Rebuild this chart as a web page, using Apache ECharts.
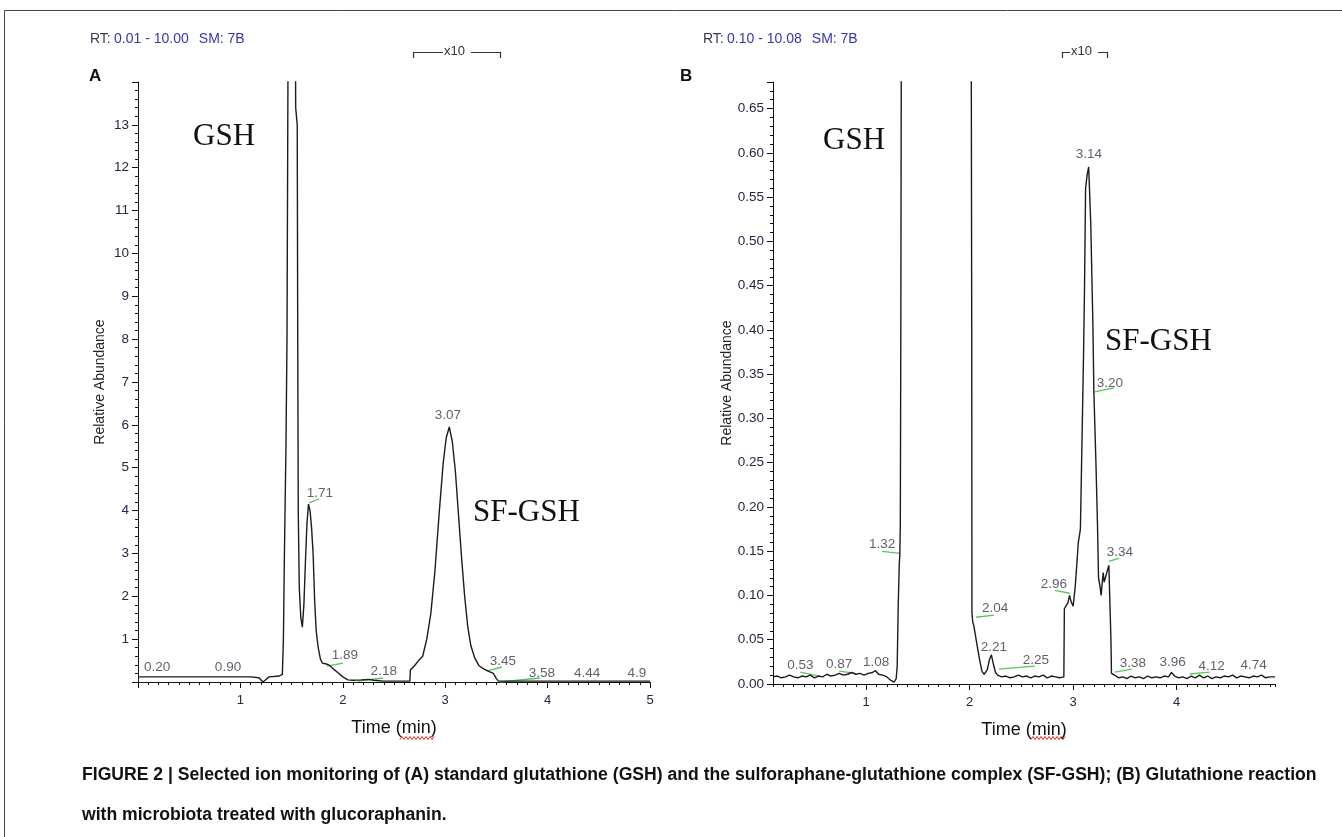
<!DOCTYPE html>
<html>
<head>
<meta charset="utf-8">
<title>Selected ion monitoring</title>
<script src="https://cdn.jsdelivr.net/npm/echarts@6/dist/echarts.min.js"></script>
<style>
html, body { margin: 0; padding: 0; background: #fff; }
#myChart { width: 1342px; height: 837px; }
</style>
</head>
<body>
<div id="myChart"></div>
<script>
// panel A: standard GSH / SF-GSH, [time (min), relative abundance]
var traceA = [
  [0.01, 0.12], [0.3, 0.12], [0.6, 0.12], [0.9, 0.12], [1.1, 0.12], [1.18, 0.1], [1.22, 0.0],
  [1.25, 0.06], [1.28, 0.12], [1.38, 0.14], [1.41, 0.18], [1.42, 1.0], [1.43, 3.0], [1.445, 5.5],
  [1.455, 8], [1.465, 14.5], [1.50, 80], [1.535, 16], [1.54, 13.4], [1.555, 13], [1.56, 8],
  [1.565, 4], [1.575, 2.2], [1.59, 1.5], [1.605, 1.28], [1.62, 1.8], [1.635, 2.8], [1.65, 3.7],
  [1.665, 4.15], [1.68, 4.0], [1.695, 3.6], [1.71, 3.0], [1.725, 1.9], [1.74, 1.2], [1.76, 0.8],
  [1.78, 0.55], [1.80, 0.44], [1.84, 0.42], [1.875, 0.38], [1.91, 0.3], [1.95, 0.22], [2.0, 0.12],
  [2.05, 0.05], [2.1, 0.04], [2.18, 0.05], [2.25, 0.06], [2.3, 0.04], [2.4, 0.02], [2.55, 0.02],
  [2.655, 0.02], [2.66, 0.28], [2.7, 0.38], [2.74, 0.5], [2.78, 0.6], [2.82, 1.0], [2.86, 1.6],
  [2.9, 2.6], [2.94, 3.9], [2.98, 5.1], [3.01, 5.7], [3.04, 5.95], [3.07, 5.6], [3.1, 4.9],
  [3.13, 3.9], [3.16, 2.9], [3.19, 2.0], [3.22, 1.3], [3.25, 0.85], [3.29, 0.55], [3.33, 0.38],
  [3.38, 0.3], [3.43, 0.24], [3.47, 0.2], [3.5, 0.08], [3.52, 0.02], [3.8, 0.02], [4.2, 0.02],
  [4.6, 0.02], [5.0, 0.02]
];

// panel B: microbiota + glucoraphanin
var traceB = [
  [0.10, 0.008], [0.14, 0.009], [0.18, 0.007], [0.22, 0.008], [0.26, 0.010], [0.30, 0.008],
  [0.34, 0.007], [0.38, 0.009], [0.42, 0.008], [0.46, 0.010], [0.50, 0.007], [0.54, 0.009],
  [0.58, 0.008], [0.62, 0.011], [0.66, 0.009], [0.70, 0.010], [0.74, 0.012], [0.78, 0.010],
  [0.82, 0.011], [0.86, 0.013], [0.90, 0.011], [0.94, 0.012], [0.98, 0.010], [1.02, 0.012],
  [1.06, 0.013], [1.09, 0.015], [1.12, 0.011], [1.16, 0.010], [1.20, 0.008], [1.24, 0.004],
  [1.27, 0.002], [1.29, 0.006], [1.30, 0.02], [1.31, 0.09], [1.32, 0.135], [1.325, 0.145],
  [1.33, 0.18], [1.335, 0.4], [1.34, 0.75], [1.5, 2.5], [1.7, 3], [1.9, 2.5], [2.015, 0.75],
  [2.02, 0.40], [2.022, 0.08], [2.03, 0.07], [2.04, 0.066], [2.07, 0.045], [2.10, 0.025],
  [2.12, 0.014], [2.14, 0.011], [2.17, 0.016], [2.19, 0.027], [2.21, 0.033], [2.23, 0.022],
  [2.25, 0.013], [2.27, 0.010], [2.31, 0.008], [2.35, 0.009], [2.39, 0.007], [2.43, 0.008],
  [2.47, 0.010], [2.51, 0.008], [2.55, 0.009], [2.59, 0.007], [2.63, 0.009], [2.67, 0.008],
  [2.71, 0.010], [2.75, 0.007], [2.79, 0.009], [2.83, 0.008], [2.87, 0.007], [2.91, 0.008],
  [2.915, 0.085], [2.93, 0.088], [2.95, 0.092], [2.965, 0.1], [2.98, 0.093], [3.0, 0.088],
  [3.02, 0.11], [3.05, 0.16], [3.07, 0.175], [3.08, 0.24], [3.10, 0.37], [3.11, 0.45],
  [3.12, 0.56], [3.135, 0.575], [3.15, 0.584], [3.17, 0.52], [3.19, 0.41], [3.20, 0.33],
  [3.22, 0.25], [3.235, 0.18], [3.245, 0.12], [3.26, 0.11], [3.27, 0.10], [3.29, 0.126],
  [3.30, 0.115], [3.315, 0.117], [3.33, 0.128], [3.345, 0.134], [3.36, 0.136], [3.365, 0.05],
  [3.37, 0.012], [3.40, 0.010], [3.44, 0.007], [3.48, 0.008], [3.52, 0.006], [3.56, 0.009],
  [3.60, 0.007], [3.64, 0.008], [3.68, 0.006], [3.72, 0.009], [3.76, 0.007], [3.80, 0.008],
  [3.84, 0.007], [3.88, 0.009], [3.92, 0.008], [3.95, 0.013], [3.98, 0.009], [4.02, 0.007],
  [4.06, 0.008], [4.10, 0.006], [4.14, 0.009], [4.18, 0.007], [4.22, 0.010], [4.26, 0.007],
  [4.30, 0.009], [4.34, 0.006], [4.38, 0.008], [4.42, 0.007], [4.46, 0.009], [4.50, 0.008],
  [4.54, 0.010], [4.58, 0.007], [4.62, 0.009], [4.66, 0.008], [4.70, 0.007], [4.74, 0.009],
  [4.78, 0.008], [4.82, 0.010], [4.86, 0.007], [4.90, 0.008], [4.95, 0.008]
];

// peak annotations: [x, y, text]
var peakLabelsA = [
  [0.186, 0.35, "0.20"], [0.879, 0.35, "0.90"], [1.777, 4.41, "1.71"], [2.02, 0.63, "1.89"],
  [2.40, 0.26, "2.18"], [3.027, 6.23, "3.07"], [3.564, 0.49, "3.45"], [3.945, 0.21, "3.58"],
  [4.385, 0.21, "4.44"], [4.873, 0.21, "4.9"]
];
var peakLabelsB = [
  [0.364, 0.0214, "0.53"], [0.74, 0.0225, "0.87"], [1.097, 0.0248, "1.08"], [1.155, 0.158, "1.32"],
  [2.245, 0.0856, "2.04"], [2.235, 0.0417, "2.21"], [2.64, 0.027, "2.25"], [2.814, 0.1126, "2.96"],
  [3.151, 0.598, "3.14"], [3.354, 0.340, "3.20"], [3.451, 0.1486, "3.34"], [3.576, 0.0236, "3.38"],
  [3.962, 0.0248, "3.96"], [4.338, 0.0203, "4.12"], [4.743, 0.0214, "4.74"]
];

// green integration marks: [x1, y1, x2, y2]
var greenTicksA = [
  [1.67, 4.18, 1.768, 4.27], [1.846, 0.373, 2.002, 0.443], [2.148, 0.023, 2.393, 0.093],
  [3.408, 0.257, 3.555, 0.35], [3.535, 0.0, 3.926, 0.093]
];
var greenTicksB = [
  [0.364, 0.0135, 0.547, 0.009], [0.74, 0.0146, 0.885, 0.0124], [1.155, 0.1498, 1.328, 0.1475],
  [2.061, 0.0754, 2.235, 0.0777], [2.283, 0.0169, 2.63, 0.0203], [2.823, 0.1058, 2.968, 0.1025],
  [3.2095, 0.33, 3.393, 0.3344], [3.344, 0.1385, 3.441, 0.1419], [3.402, 0.0135, 3.566, 0.0169],
  [4.126, 0.0113, 4.319, 0.0135]
];

var xTicksB = [1, 2, 3, 4];

var myChart = echarts.init(document.getElementById("myChart"));

var sans = "Arial, 'Liberation Sans', sans-serif";
var serif = "'Times New Roman', 'Liberation Serif', serif";
var labelColor = "#262640";

function segs(list) {
  return list.map(function (s) { return { coords: [[s[0], s[1]], [s[2], s[3]]] }; });
}

// red spell-check squiggle under "min"
function squiggle(x0, y0, w) {
  var pts = [];
  for (var i = 0; i <= w / 2; i++) {
    pts.push([x0 + i * 2, y0 + (i % 2 ? -1.5 : 1.5)]);
  }
  return pts;
}

function plainText(txt, x, y, size, weight, family) {
  return {
    type: "text", left: x, top: y,
    style: { text: txt, fontSize: size, fontWeight: weight || "normal", fontFamily: family || sans, fill: "#111" }
  };
}

function rtText(range, x) {
  return {
    type: "text", left: x, top: 32,
    style: {
      text: "{d|RT:} {b|" + range + "}   {b|SM: 7B}",
      rich: {
        d: { fontSize: 14, fontFamily: sans, fill: "#3a3a5a" },
        b: { fontSize: 14, fontFamily: sans, fill: "#3636b0" }
      }
    }
  };
}

var yAxisCommon = {
  type: "value",
  axisLine: { show: true, lineStyle: { color: "#111", width: 1 } },
  axisTick: { show: true, length: 6, lineStyle: { color: "#111" } },
  minorTick: { show: true, splitNumber: 5, length: 3, lineStyle: { color: "#111" } },
  splitLine: { show: false },
  name: "Relative Abundance",
  nameLocation: "middle",
  nameGap: 31,
  nameTextStyle: { fontSize: 14, fontFamily: sans, color: "#222" }
};

var xName = {
  name: "Time (min)", nameLocation: "middle", nameGap: 37,
  nameTextStyle: { fontSize: 18, fontFamily: sans, color: "#111" }
};

myChart.setOption({
  animation: false,
  grid: [
    { left: 138, top: 82, width: 512, height: 600 },
    { left: 773, top: 82, width: 502, height: 602 }
  ],
  xAxis: [
    Object.assign({
      gridIndex: 0, type: "value", position: "bottom", min: 0, max: 5, interval: 1,
      axisLine: { onZero: false, lineStyle: { color: "#111" } },
      axisTick: { length: 6, lineStyle: { color: "#111" } },
      minorTick: { show: true, splitNumber: 10, length: 3, lineStyle: { color: "#111" } },
      splitLine: { show: false },
      axisLabel: {
        margin: 12, fontSize: 13, fontFamily: sans, color: labelColor,
        formatter: function (v) { return v === 0 ? "" : v; }
      }
    }, xName),
    Object.assign({
      gridIndex: 1, type: "value", position: "bottom", min: 0.1, max: 4.95,
      axisLine: { onZero: false, lineStyle: { color: "#111" } },
      axisTick: { length: 6, customValues: xTicksB, lineStyle: { color: "#111" } },
      splitLine: { show: false },
      axisLabel: { margin: 12, fontSize: 13, fontFamily: sans, color: labelColor, customValues: xTicksB }
    }, xName),
    {
      gridIndex: 1, type: "value", position: "bottom", min: 0.1, max: 4.95, interval: 0.1,
      axisLine: { show: false, onZero: false },
      axisTick: { length: 3, lineStyle: { color: "#111" } },
      axisLabel: { show: false },
      splitLine: { show: false }
    }
  ],
  yAxis: [
    Object.assign({}, yAxisCommon, {
      gridIndex: 0, min: 0, max: 14, interval: 1,
      axisLabel: {
        margin: 9, fontSize: 13.5, fontFamily: sans, color: labelColor,
        formatter: function (v) { return (v === 0 || v === 14) ? "" : v; }
      }
    }),
    Object.assign({}, yAxisCommon, {
      gridIndex: 1, min: 0, max: 0.68, interval: 0.05,
      axisLabel: {
        margin: 9, fontSize: 13.5, fontFamily: sans, color: labelColor,
        formatter: function (v) { return v > 0.66 ? "" : v.toFixed(2); }
      }
    })
  ],
  series: [
    {
      type: "line", xAxisIndex: 0, yAxisIndex: 0, data: traceA, showSymbol: false,
      lineStyle: { color: "#1c1c1c", width: 1.4 }, clip: true
    },
    {
      type: "line", xAxisIndex: 1, yAxisIndex: 1, data: traceB, showSymbol: false,
      lineStyle: { color: "#1c1c1c", width: 1.4 }, clip: true
    },
    {
      type: "lines", coordinateSystem: "cartesian2d", xAxisIndex: 0, yAxisIndex: 0,
      data: segs(greenTicksA), lineStyle: { color: "#5cc45c", width: 1.3, opacity: 1 }
    },
    {
      type: "lines", coordinateSystem: "cartesian2d", xAxisIndex: 1, yAxisIndex: 1,
      data: segs(greenTicksB), lineStyle: { color: "#5cc45c", width: 1.3, opacity: 1 }
    },
    {
      type: "scatter", xAxisIndex: 0, yAxisIndex: 0, data: peakLabelsA, symbolSize: 0,
      label: {
        show: true, position: "inside", fontSize: 13.5, fontFamily: sans, color: "#3a3646",
        formatter: function (p) { return p.value[2]; }
      }
    },
    {
      type: "scatter", xAxisIndex: 1, yAxisIndex: 1, data: peakLabelsB, symbolSize: 0,
      label: {
        show: true, position: "inside", fontSize: 13.5, fontFamily: sans, color: "#3a3646",
        formatter: function (p) { return p.value[2]; }
      }
    }
  ],
  graphic: [
    { type: "polyline", shape: { points: [[4.5, 837], [4.5, 10.5], [1342, 10.5]] }, style: { stroke: "#444", lineWidth: 1, fill: null } },
    rtText("0.01 - 10.00", 90),
    rtText("0.10 - 10.08", 703),
    plainText("A", 89, 68, 17, "bold"),
    plainText("B", 680, 68, 17, "bold"),
    // x10 zoom brackets
    { type: "polyline", shape: { points: [[413.5, 58], [413.5, 52.5], [443, 52.5]] }, style: { stroke: "#333", lineWidth: 1.2, fill: null } },
    { type: "polyline", shape: { points: [[471, 52.5], [500.5, 52.5], [500.5, 58]] }, style: { stroke: "#333", lineWidth: 1.2, fill: null } },
    { type: "text", left: 444, top: 45, style: { text: "x10", fontSize: 13, fontFamily: sans, fill: "#333" } },
    { type: "polyline", shape: { points: [[1062.5, 58], [1062.5, 52.5], [1070, 52.5]] }, style: { stroke: "#333", lineWidth: 1.2, fill: null } },
    { type: "polyline", shape: { points: [[1098, 52.5], [1107.5, 52.5], [1107.5, 58]] }, style: { stroke: "#333", lineWidth: 1.2, fill: null } },
    { type: "text", left: 1071, top: 45, style: { text: "x10", fontSize: 13, fontFamily: sans, fill: "#333" } },
    // compound names
    { type: "text", left: 193, top: 121, style: { text: "GSH", fontSize: 31, fontFamily: serif, fill: "#111" } },
    { type: "text", left: 823, top: 125, style: { text: "GSH", fontSize: 31, fontFamily: serif, fill: "#111" } },
    { type: "text", left: 473, top: 497, style: { text: "SF-GSH", fontSize: 31, fontFamily: serif, fill: "#111" } },
    { type: "text", left: 1105, top: 326, style: { text: "SF-GSH", fontSize: 31, fontFamily: serif, fill: "#111" } },
    { type: "polyline", shape: { points: squiggle(400, 738, 34) }, style: { stroke: "#e02020", lineWidth: 1, fill: null } },
    { type: "polyline", shape: { points: squiggle(1031, 738, 34) }, style: { stroke: "#e02020", lineWidth: 1, fill: null } },
    // caption
    plainText("FIGURE 2 | Selected ion monitoring of (A) standard glutathione (GSH) and the sulforaphane-glutathione complex (SF-GSH); (B) Glutathione reaction", 82, 766, 17.6, "bold"),
    plainText("with microbiota treated with glucoraphanin.", 82, 806, 17.6, "bold")
  ]
});
</script>
</body>
</html>
